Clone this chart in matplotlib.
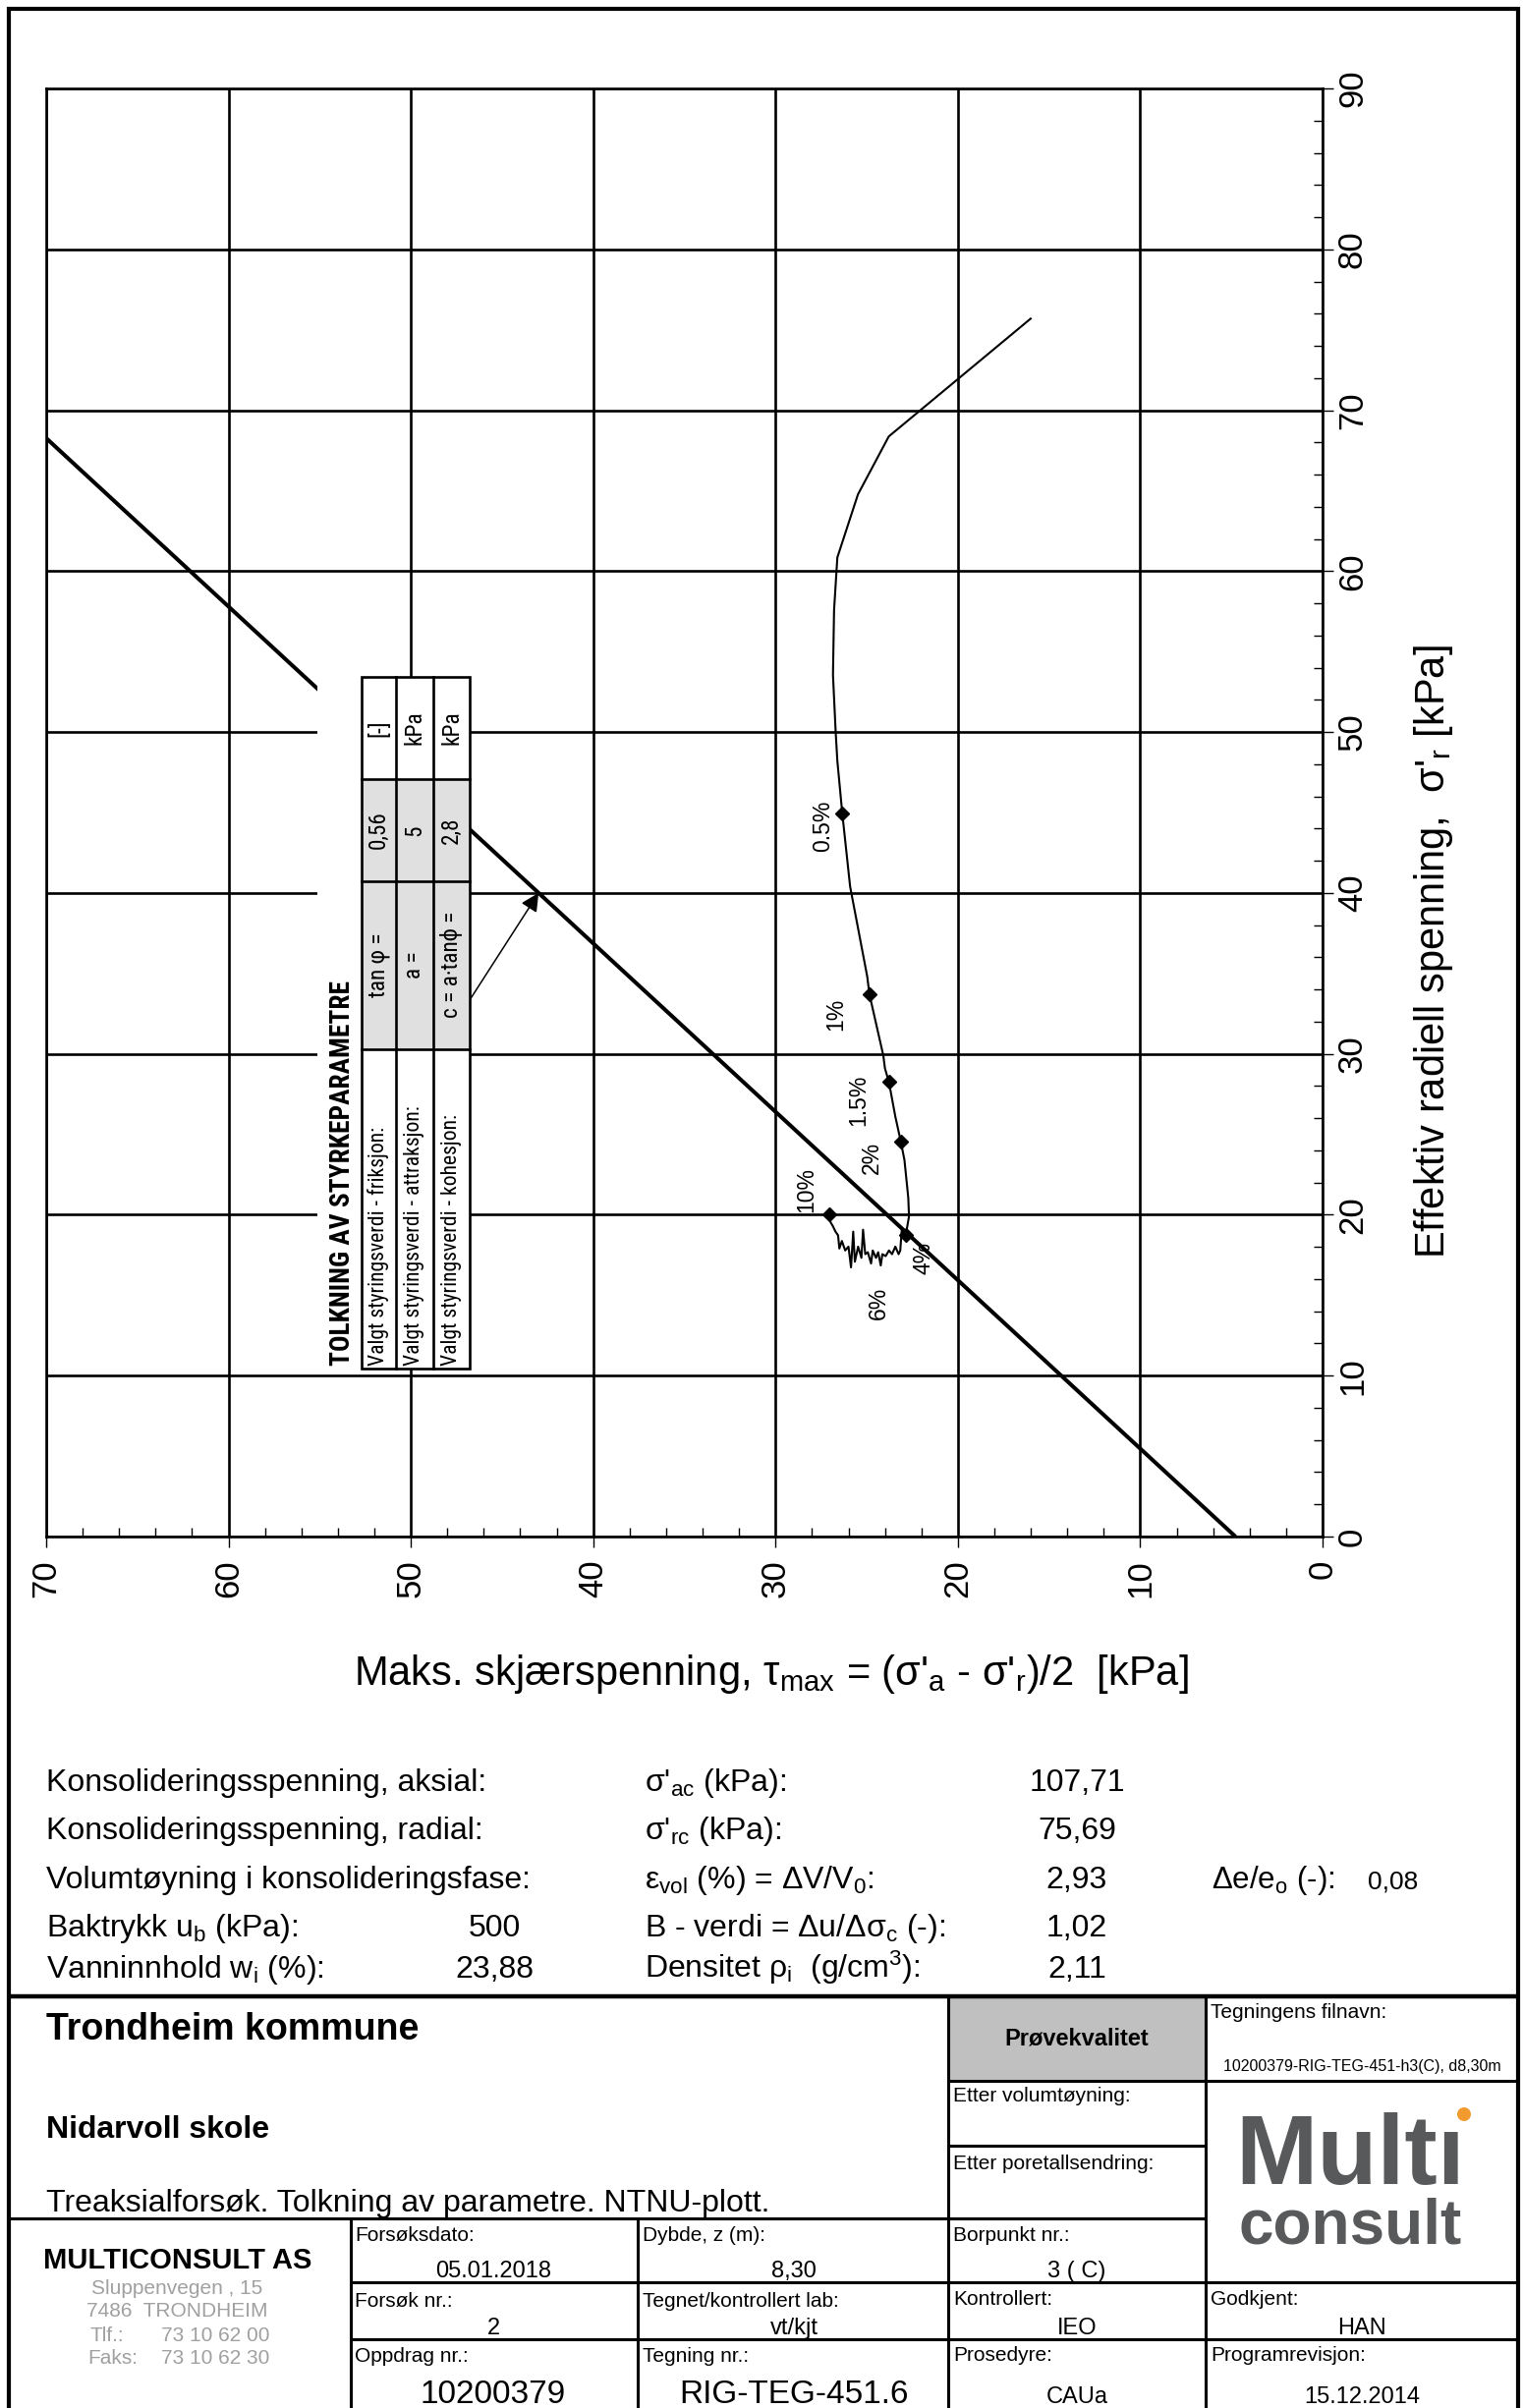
import matplotlib
matplotlib.use('Agg')
import matplotlib.pyplot as plt
import numpy as np
from matplotlib.patches import Rectangle, Circle
from matplotlib.ticker import MultipleLocator
from matplotlib import font_manager as fm

plt.rcParams['font.family'] = ['Liberation Sans', 'DejaVu Sans']
plt.rcParams['mathtext.fontset'] = 'custom'
plt.rcParams['mathtext.rm'] = 'Liberation Sans'
plt.rcParams['mathtext.it'] = 'Liberation Sans:italic'
plt.rcParams['mathtext.bf'] = 'Liberation Sans:bold'
plt.rcParams['mathtext.sf'] = 'Liberation Sans'

# ---------------- data ----------------
tau_path = [16.01, 23.79, 25.48, 26.61, 26.79, 26.85, 26.70, 26.61, 26.34, 25.91,
            24.97, 24.85, 24.09, 24.00, 23.78, 23.43, 23.13, 22.93, 22.72, 22.68,
            22.86, 23.07, 23.16, 23.25, 23.43, 23.61, 23.78, 23.96, 24.14, 24.23,
            24.37, 24.49, 24.67, 24.76, 24.94, 25.08, 25.20, 25.29, 25.47, 25.65,
            25.74, 25.86, 26.00, 26.18, 26.36, 26.50, 26.57, 26.71, 26.86, 26.98, 27.07]
sigr_path = [75.69, 68.37, 64.77, 60.85, 57.58, 53.55, 49.96, 48.21, 44.95, 40.40,
             34.80, 33.70, 29.90, 29.10, 28.24, 26.10, 24.55, 23.40, 21.05, 19.90,
             18.72, 19.18, 17.78, 17.55, 18.02, 17.55, 17.78, 17.43, 17.55, 16.85,
             17.67, 17.32, 17.78, 16.97, 17.67, 17.55, 19.07, 17.32, 18.02, 17.08,
             18.95, 16.73, 18.02, 17.78, 18.37, 17.90, 18.72, 18.95, 19.30, 19.53, 20.00]

strain_labels = ['0.5%', '1%', '1.5%', '2%', '4%', '10%']
strain_tau = [26.34, 24.85, 23.78, 23.13, 22.86, 27.07]
strain_sigr = [44.95, 33.70, 28.24, 24.55, 18.72, 20.00]
label_6pct = ('6%', 24.32, 14.52)

tan_phi = 0.56
attraction = 5.0
cohesion = 2.8

x_ticks = [70, 60, 50, 40, 30, 20, 10, 0]
y_ticks = [0, 10, 20, 30, 40, 50, 60, 70, 80, 90]

info_rows = [
    ("Konsolideringsspenning, aksial:", "", "σ'$_\\mathrm{ac}$ (kPa):", "107,71"),
    ("Konsolideringsspenning, radial:", "", "σ'$_\\mathrm{rc}$ (kPa):", "75,69"),
    ("Volumtøyning i konsolideringsfase:", "", "ε$_\\mathrm{vol}$ (%) = ΔV/V$_\\mathrm{0}$:", "2,93"),
    ("Baktrykk u$_\\mathrm{b}$ (kPa):", "500", "B - verdi = Δu/Δσ$_\\mathrm{c}$ (-):", "1,02"),
    ("Vanninnhold w$_\\mathrm{i}$ (%):", "23,88", "Densitet ρ$_\\mathrm{i}$  (g/cm$^\\mathrm{3}$):", "2,11"),
]
de_e0 = "0,08"


# ---------------- narrow font for the parameter table ----------------
def _weight(f):
    w = f.weight
    if isinstance(w, str):
        w = fm.weight_dict.get(w, 400)
    return w


def _is_narrow(f):
    s = f.stretch
    if isinstance(s, (int, float)):
        return s < 500
    return (s in ('condensed', 'semi-condensed', 'extra-condensed', 'ultra-condensed')
            or 'Narrow' in f.name or 'Condensed' in f.name)


def pick_narrow(bold):
    pref = ['Liberation Sans Narrow', 'Arial Narrow', 'Roboto Condensed',
            'Open Sans Condensed', 'Noto Sans', 'Open Sans', 'Roboto', 'DejaVu Sans']
    srank = {'condensed': 0, 'semi-condensed': 1, 'extra-condensed': 2, 'ultra-condensed': 3}
    cands = [f for f in fm.fontManager.ttflist if f.style == 'normal' and _is_narrow(f)]
    if not cands:
        return fm.FontProperties(family=['Liberation Sans', 'DejaVu Sans'],
                                 weight='bold' if bold else 'normal')
    want = 700 if bold else 400

    def key(f):
        p = pref.index(f.name) if f.name in pref else len(pref)
        return (p, srank.get(f.stretch, 1) if isinstance(f.stretch, str) else 1,
                abs(_weight(f) - want))
    best = min(cands, key=key)
    return fm.FontProperties(family=[best.name, 'Liberation Sans', 'DejaVu Sans'],
                             weight=_weight(best), stretch=best.stretch, style='normal')


fp_narrow = pick_narrow(False)
fp_narrow_bold = pick_narrow(True)

# ---------------- figure ----------------
W, H = 1550, 2451
fig = plt.figure(figsize=(W / 100, H / 100), dpi=100)
ax_l, ax_r, ax_t, ax_b = 47, 1346, 90, 1564
ax = fig.add_axes([ax_l / W, 1 - ax_b / H, (ax_r - ax_l) / W, (ax_b - ax_t) / H])

ax.set_xlim(70, 0)
ax.set_ylim(0, 90)
ax.set_xticks(x_ticks)
ax.set_yticks(y_ticks)
ax.xaxis.set_minor_locator(MultipleLocator(2))
ax.yaxis.set_minor_locator(MultipleLocator(2))
ax.yaxis.tick_right()
ax.tick_params(which='major', direction='out', length=8, width=1.0, labelsize=25,
               colors='black')
ax.tick_params(axis='x', which='major', pad=9, labelrotation=90)
ax.tick_params(axis='y', which='major', pad=2, labelrotation=90)
ax.tick_params(which='minor', direction='in', length=6.5, width=1.0)
ax.tick_params(top=False, left=False, right=True, bottom=True,
               labelleft=False, labelright=True, which='both')
for lbl in ax.get_yticklabels():
    lbl.set_va('center')
    lbl.set_ha('left')
for s in ax.spines.values():
    s.set_linewidth(1.9)
ax.grid(which='major', color='black', linewidth=1.9)
ax.set_axisbelow(True)

# failure line  tau = (N-1)/2 * (sigma_r + a)
sin_phi = tan_phi / np.sqrt(1 + tan_phi ** 2)
N = (1 + sin_phi) / (1 - sin_phi)
k = (N - 1) / 2
sig_line = np.array([0.0, 70 / k - attraction])
tau_line = k * (sig_line + attraction)
ax.plot(tau_line, sig_line, color='black', lw=2.9, solid_capstyle='butt', zorder=3)

# stress path
ax.plot(tau_path, sigr_path, color='black', lw=1.5, zorder=4)
ax.plot(strain_tau, strain_sigr, linestyle='none', marker='D', ms=7.5, color='black', zorder=5)
offsets = [(-20, -13), (-34, -20), (-31, -18), (-29, -17), (18, -23), (-23, 25)]
for lab, t, s, off in zip(strain_labels, strain_tau, strain_sigr, offsets):
    ax.annotate(lab, xy=(t, s), xytext=off, textcoords='offset pixels',
                rotation=90, ha='center', va='center', fontsize=16.5)
ax.text(label_6pct[1], label_6pct[2], label_6pct[0], rotation=90, ha='center',
        va='center', fontsize=16.5)

# arrow from table to failure line
tau_target = k * (40 + attraction)
ax.annotate('', xy=(tau_target, 40), xytext=(46.8, 33.3),
            arrowprops=dict(arrowstyle='-|>', lw=1.1, color='black',
                            mutation_scale=28, shrinkA=0, shrinkB=0), zorder=6)

# ---------------- layout overlay (pixel coords) ----------------
lay = fig.add_axes([0, 0, 1, 1])
lay.set_zorder(5)
lay.set_xlim(0, W)
lay.set_ylim(H, 0)
lay.axis('off')
lay.patch.set_alpha(0)


def hline(y, x0, x1, lw=2.2):
    lay.plot([x0, x1], [y, y], color='black', lw=lw, solid_capstyle='butt')


def vline(x, y0, y1, lw=2.2):
    lay.plot([x, x], [y0, y1], color='black', lw=lw, solid_capstyle='butt')


# outer frame
vline(9, 7, H, lw=3)
vline(1545, 7, H, lw=3)
hline(9, 7, 1547, lw=3)

# ----- parameter table -----
lay.add_patch(Rectangle((323, 689), 479 - 323, 1393 - 689, facecolor='white',
                        edgecolor='none', zorder=1))
lay.add_patch(Rectangle((368, 793), 478 - 368, 1068 - 793, facecolor='#e0e0e0',
                        edgecolor='none', zorder=2))
lay.add_patch(Rectangle((368, 689), 478 - 368, 1393 - 689, facecolor='none',
                        edgecolor='black', lw=1.9, zorder=3))
for xc in (403, 441):
    lay.plot([xc, xc], [689, 1393], color='black', lw=1.9, zorder=3)
for yr in (793, 897, 1068):
    lay.plot([368, 478], [yr, yr], color='black', lw=1.9, zorder=3)

title_t = lay.text(348, 1390, 'TOLKNING AV STYRKEPARAMETRE', rotation=90, ha='center',
                   va='bottom', fontproperties=fp_narrow_bold, fontsize=19, zorder=4)
col_x = [385.5, 422, 459.5]
units = ['[-]', 'kPa', 'kPa']
values = [f"{tan_phi:.2f}".replace('.', ','), f"{attraction:g}", f"{cohesion:g}".replace('.', ',')]
symbols = ['tan φ =', 'a =', 'c = a·tanϕ =']
labels = ['Valgt styringsverdi - friksjon:', 'Valgt styringsverdi - attraksjon:',
          'Valgt styringsverdi - kohesjon:']
unit_t, val_t, sym_t, lab_t = [], [], [], []
for xc, u, v, sy, lb in zip(col_x, units, values, symbols, labels):
    unit_t.append(lay.text(xc, 741, u, rotation=90, ha='center', va='center',
                           fontproperties=fp_narrow, fontsize=16, zorder=4))
    val_t.append(lay.text(xc, 845, v, rotation=90, ha='center', va='center',
                          fontproperties=fp_narrow, fontsize=17.5, zorder=4))
    sym_t.append(lay.text(xc, 982, sy, rotation=90, ha='center', va='center',
                          fontproperties=fp_narrow, fontsize=16, zorder=4))
    lab_t.append(lay.text(xc, 1390, lb, rotation=90, ha='center', va='bottom',
                          fontproperties=fp_narrow, fontsize=15.3, zorder=4))

# fit the table texts to the lengths seen in the reference
renderer = fig.canvas.get_renderer()


def fit_group(texts, targets, max_size=24):
    ratios = []
    for t, tg in zip(texts, targets):
        if tg is None:
            continue
        bb = t.get_window_extent(renderer=renderer)
        ratios.append(tg / max(bb.height, 1))
    r = float(np.mean(ratios))
    for t in texts:
        t.set_fontsize(min(t.get_fontsize() * r, max_size))


fit_group([title_t], [391], max_size=30)
fit_group(lab_t, [218, 278, 270])
fit_group(sym_t, [63, None, 112])
fit_group(val_t, [39, None, 27])
fit_group(unit_t, [None, 35, 35])

# axis labels
lay.text(360, 1715, "Maks. skjærspenning, τ$_\\mathrm{max}$ = (σ'$_\\mathrm{a}$ - σ'$_\\mathrm{r}$)/2  [kPa]",
         ha='left', va='baseline', fontsize=30)
lay.text(1459, 969, "Effektiv radiell spenning,  σ'$_\\mathrm{r}$ [kPa]", rotation=90,
         ha='center', va='center', fontsize=30)

# ----- info block -----
baselines = [1823, 1872, 1922, 1971, 2013]
for yb, (a, b, c, d) in zip(baselines, info_rows):
    lay.text(47, yb, a, ha='left', va='baseline', fontsize=23)
    if b:
        lay.text(503, yb, b, ha='center', va='baseline', fontsize=23)
    lay.text(656, yb, c, ha='left', va='baseline', fontsize=23)
    lay.text(1096, yb, d, ha='center', va='baseline', fontsize=23)
lay.text(1233, 1922, "Δe/e$_\\mathrm{o}$ (-):", ha='left', va='baseline', fontsize=22.5)
lay.text(1392, 1922, de_e0, ha='left', va='baseline', fontsize=19)

# ----- title block -----
hline(2032, 7, 1547, lw=3.2)
hline(2258, 9, 1227)
vline(357, 2258, H)
vline(649, 2258, H)
vline(965, 2032, H)
vline(1227, 2032, H)
hline(2323, 357, 1545)
hline(2381, 357, 1545)
hline(2118, 965, 1545)
hline(2184, 965, 1227)
lay.add_patch(Rectangle((966, 2034), 1227 - 966, 2118 - 2034, facecolor='#c0c0c0',
                        edgecolor='none', zorder=0))

lay.text(47, 2076, 'Trondheim kommune', fontsize=27, fontweight='bold', va='baseline')
lay.text(47, 2176, 'Nidarvoll skole', fontsize=23, fontweight='bold', va='baseline')
lay.text(47, 2251, 'Treaksialforsøk. Tolkning av parametre. NTNU-plott.', fontsize=23, va='baseline')

lay.text(181, 2309, 'MULTICONSULT AS', fontsize=21, fontweight='bold', ha='center', va='baseline')
grey = '#a0a0a0'
lay.text(180, 2335, 'Sluppenvegen , 15', fontsize=15, color=grey, ha='center', va='baseline')
lay.text(180, 2358, '7486  TRONDHEIM', fontsize=15, color=grey, ha='center', va='baseline')
lay.text(91, 2383, 'Tlf.:', fontsize=15, color=grey, ha='left', va='baseline')
lay.text(164, 2383, '73 10 62 00', fontsize=15, color=grey, ha='left', va='baseline')
lay.text(89, 2406, 'Faks:', fontsize=15, color=grey, ha='left', va='baseline')
lay.text(164, 2406, '73 10 62 30', fontsize=15, color=grey, ha='left', va='baseline')

small = 15
cells = [
    (361, 2281, 'Forsøksdato:'), (654, 2281, 'Dybde, z (m):'), (970, 2281, 'Borpunkt nr.:'),
    (361, 2348, 'Forsøk nr.:'), (654, 2348, 'Tegnet/kontrollert lab:'), (970, 2346, 'Kontrollert:'),
    (1232, 2346, 'Godkjent:'),
    (361, 2404, 'Oppdrag nr.:'), (654, 2404, 'Tegning nr.:'), (970, 2403, 'Prosedyre:'),
    (1232, 2403, 'Programrevisjon:'),
    (1232, 2054, 'Tegningens filnavn:'), (970, 2139, 'Etter volumtøyning:'),
    (970, 2208, 'Etter poretallsendring:'),
]
for x, y, t in cells:
    lay.text(x, y, t, fontsize=small, ha='left', va='baseline')

vals = [
    (502, 2318, '05.01.2018', 17), (808, 2318, '8,30', 17), (1096, 2318, '3 ( C)', 17),
    (502, 2376, '2', 17), (808, 2376, 'vt/kjt', 17), (1096, 2376, 'IEO', 17), (1386, 2376, 'HAN', 17),
    (502, 2446, '10200379', 24), (808, 2446, 'RIG-TEG-451.6', 24),
    (1096, 2446, 'CAUa', 17), (1386, 2446, '15.12.2014', 17),
]
for x, y, t, fs in vals:
    lay.text(x, y, t, fontsize=fs, ha='center', va='baseline')
lay.text(1096, 2081, 'Prøvekvalitet', fontsize=17, fontweight='bold', ha='center', va='baseline')
lay.text(1386, 2108, '10200379-RIG-TEG-451-h3(C), d8,30m', fontsize=11.5, ha='center', va='baseline')

# logo
logo_grey = '#58595b'
lay.text(1374, 2223, 'Multı', fontsize=72, fontweight='bold', color=logo_grey,
         ha='center', va='baseline')
lay.text(1374, 2283, 'consult', fontsize=46, fontweight='bold', color=logo_grey,
         ha='center', va='baseline')
lay.add_patch(Circle((1490, 2152), 7, facecolor='#f39a2e', edgecolor='none'))

fig.savefig('out.png', dpi=100)
